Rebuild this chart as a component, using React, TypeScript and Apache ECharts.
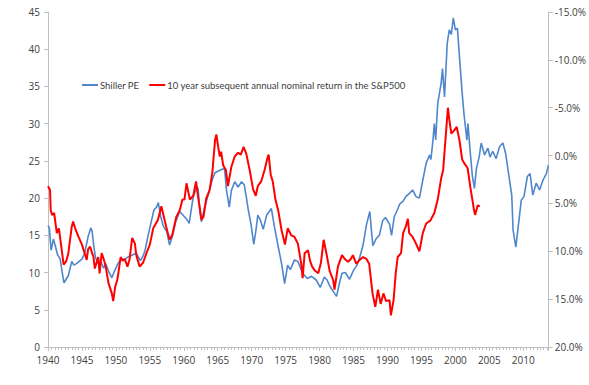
import React, { useEffect, useRef } from "react";
import * as echarts from "echarts";

const peYears = [1940.0,1940.2,1940.45,1940.8,1941.1,1941.4,1941.8,1942.1,1942.35,1942.6,1943.0,1943.5,1943.8,1944.2,1944.6,1945.0,1945.4,1945.9,1946.3,1946.5,1946.75,1947.0,1947.4,1947.8,1948.2,1948.5,1948.9,1949.4,1949.8,1950.3,1950.8,1951.2,1951.8,1952.5,1953.0,1953.6,1954.0,1954.3,1954.7,1955.1,1955.6,1956.0,1956.25,1956.6,1957.0,1957.5,1957.9,1958.3,1958.8,1959.4,1959.8,1960.1,1960.4,1960.8,1961.1,1961.4,1961.9,1962.1,1962.4,1962.6,1963.0,1963.4,1963.8,1964.2,1964.6,1965.0,1965.5,1966.0,1966.3,1966.7,1967.0,1967.5,1968.0,1968.5,1968.9,1969.2,1969.5,1969.9,1970.3,1970.6,1970.9,1971.3,1971.7,1972.2,1972.9,1973.4,1973.9,1974.4,1974.85,1975.3,1975.7,1976.3,1976.8,1977.5,1978.2,1978.8,1979.5,1980.1,1980.7,1981.1,1981.5,1982.2,1982.5,1982.9,1983.3,1983.8,1984.4,1985.0,1985.5,1985.9,1986.4,1986.9,1987.4,1987.7,1987.85,1988.3,1988.8,1989.3,1989.7,1990.3,1990.6,1991.0,1991.5,1991.8,1992.3,1992.7,1993.2,1993.7,1994.2,1994.7,1995.2,1995.7,1996.2,1996.4,1996.7,1996.9,1997.1,1997.4,1997.9,1998.1,1998.4,1998.8,1999.1,1999.4,1999.7,2000.0,2000.3,2000.6,2001.0,2001.3,2001.7,2001.85,2002.2,2002.5,2002.8,2003.1,2003.5,2003.8,2004.3,2004.8,2005.1,2005.5,2006.0,2006.5,2007.0,2007.4,2007.9,2008.3,2008.5,2008.9,2009.2,2009.7,2010.1,2010.6,2011.0,2011.4,2011.9,2012.4,2012.9,2013.4,2013.7];
const peValues = [16.3,16.0,13.0,14.5,13.5,12.4,11.8,10.0,8.6,9.0,9.6,11.5,11.0,11.2,11.5,11.8,12.6,14.8,16.0,15.5,13.5,12.0,11.2,11.4,10.6,11.2,10.2,9.3,10.2,11.2,11.9,11.7,12.1,12.4,12.6,11.6,12.2,13.0,14.8,16.4,18.4,18.8,19.4,17.5,16.2,15.5,13.7,14.8,16.8,18.2,17.8,17.5,17.2,16.6,18.5,20.2,21.5,21.3,18.0,16.8,18.5,19.8,21.1,22.5,23.4,23.6,23.8,24.0,21.0,18.8,21.0,22.2,21.5,22.2,21.8,20.2,18.4,16.5,13.8,15.5,17.7,17.0,15.8,17.7,18.6,15.9,13.5,11.2,8.5,11.0,10.4,11.7,11.5,9.9,9.2,9.5,9.0,8.0,9.4,9.0,8.2,7.2,6.8,8.5,9.9,10.0,9.1,10.3,11.0,12.0,13.7,16.4,18.2,15.0,13.6,14.5,15.0,17.0,17.4,16.5,15.0,17.5,18.5,19.2,19.6,20.2,20.6,21.1,20.2,20.0,22.4,24.7,25.8,25.2,27.8,30.0,27.8,32.7,35.4,37.4,33.6,40.8,42.6,42.0,44.2,42.6,42.8,39.0,34.1,31.0,27.8,30.0,26.0,23.0,21.3,24.0,25.5,27.4,25.8,26.7,25.5,26.3,25.3,26.9,27.4,26.0,22.9,20.4,15.7,13.4,15.7,19.7,20.2,22.9,23.3,20.4,22.0,21.1,22.4,23.3,24.4];

const retYears = [1940.0,1940.3,1940.4,1940.6,1940.9,1941.3,1941.6,1941.9,1942.3,1942.7,1943.0,1943.5,1943.7,1944.1,1944.5,1945.0,1945.4,1945.7,1945.9,1946.2,1946.5,1946.7,1946.9,1947.4,1947.6,1947.9,1948.2,1948.5,1948.9,1949.4,1949.6,1949.9,1950.2,1950.4,1950.7,1951.0,1951.3,1951.7,1952.0,1952.4,1952.8,1953.0,1953.5,1954.0,1954.5,1955.0,1955.5,1956.2,1956.7,1957.0,1957.4,1957.9,1958.3,1958.9,1959.4,1959.8,1960.1,1960.4,1960.9,1961.4,1961.8,1962.1,1962.6,1962.9,1963.3,1963.8,1964.2,1964.6,1964.8,1965.0,1965.3,1965.5,1965.8,1966.2,1966.5,1967.0,1967.5,1968.0,1968.4,1968.8,1969.2,1969.7,1970.2,1970.6,1970.9,1971.4,1971.9,1972.3,1972.5,1972.8,1973.1,1973.5,1973.9,1974.4,1974.9,1975.3,1975.8,1976.3,1976.8,1977.3,1977.5,1977.8,1978.3,1978.6,1978.9,1979.3,1979.8,1980.2,1980.6,1981.0,1981.5,1982.0,1982.2,1982.7,1983.3,1983.7,1984.2,1984.6,1984.9,1985.4,1985.9,1986.4,1986.9,1987.3,1987.8,1988.2,1988.6,1989.0,1989.4,1989.8,1990.3,1990.5,1990.9,1991.2,1991.5,1992.0,1992.3,1992.7,1993.0,1993.2,1993.7,1994.2,1994.7,1995.2,1995.7,1996.3,1996.9,1997.4,1997.9,1998.2,1998.5,1998.9,1999.1,1999.4,1999.8,2000.2,2000.6,2001.0,2001.4,2001.8,2002.2,2002.5,2002.7,2002.9,2003.3,2003.6];
const retValues = [3.2,3.6,5.7,6.2,6.0,8.1,7.6,9.2,11.4,11.0,10.2,7.4,6.9,7.8,8.5,9.3,10.2,10.9,9.8,9.5,10.2,10.6,11.8,10.6,12.3,10.2,10.8,11.6,13.3,14.4,15.2,13.7,13.0,12.1,10.6,11.0,10.8,11.6,10.9,8.6,9.2,10.4,11.6,11.2,10.2,9.3,7.6,6.7,5.3,6.2,7.4,8.8,8.3,6.4,5.7,4.6,4.6,2.9,4.6,4.2,2.7,4.3,6.7,6.4,4.5,3.6,1.8,-1.6,-2.2,-1.2,0.1,-0.4,1.0,1.5,3.2,1.2,0.1,-0.3,-0.1,-0.9,-0.2,1.5,3.5,4.2,3.2,2.7,1.5,0.3,-0.1,2.0,2.7,4.6,5.7,7.8,9.3,7.6,8.3,8.5,9.2,11.3,12.8,10.2,9.9,11.0,11.6,12.0,12.3,11.2,8.8,10.2,12.1,13.0,14.0,11.6,10.4,10.8,11.1,10.8,10.4,11.3,10.9,10.6,10.8,11.3,14.4,15.8,14.0,15.5,14.4,15.2,15.1,16.7,15.1,12.4,10.6,10.2,8.1,7.4,6.6,8.1,8.5,9.2,10.0,8.1,7.1,6.8,6.0,4.6,2.4,1.5,-1.3,-5.0,-3.8,-2.3,-2.6,-3.0,-1.6,0.4,0.9,1.3,3.3,4.6,5.5,6.2,5.2,5.3];

const leftTicks = { min: 0, max: 45, interval: 5 };
const rightTicks = { min: -15, max: 20, interval: 5 };
const xRange = { min: 1940, max: 2013.75, interval: 5 };

const seriesNames = ["Shiller PE", "10 year subsequent annual nominal return in the S&P500"];

export default function App() {
  const ref = useRef<HTMLDivElement>(null);
  useEffect(() => {
    if (!ref.current) return;
    const chart = echarts.init(ref.current, null, { renderer: "svg" });
    const font = "Open Sans";
    const axisColor = "#bfbfbf";
    const labelColor = "#404040";
    chart.setOption({
      animation: false,
      backgroundColor: "#ffffff",
      grid: { left: 48, right: 40, top: 12, bottom: 38 },
      legend: {
        left: 77,
        top: 75,
        itemWidth: 16,
        itemHeight: 2,
        itemGap: 10,
        icon: "rect",
        textStyle: { fontFamily: "Lato", fontSize: 9.5, color: labelColor, padding: [0, 0, 0, -3] },
        data: seriesNames,
      },
      xAxis: {
        type: "value",
        min: xRange.min,
        max: xRange.max,
        interval: xRange.interval,
        axisLine: { show: true, lineStyle: { color: axisColor } },
        axisTick: { show: true, length: 4, lineStyle: { color: axisColor } },
        minorTick: { show: true, splitNumber: 10, length: 3, lineStyle: { color: axisColor } },
        splitLine: { show: false },
        axisLabel: {
          fontFamily: font,
          fontSize: 10,
          color: labelColor,
          margin: 8,
          showMaxLabel: false,
          formatter: (v: number) => String(Math.round(v)),
        },
      },
      yAxis: [
        {
          type: "value",
          min: leftTicks.min,
          max: leftTicks.max,
          interval: leftTicks.interval,
          axisLine: { show: true, lineStyle: { color: axisColor } },
          axisTick: { show: true, length: 4, lineStyle: { color: axisColor } },
          splitLine: { show: false },
          axisLabel: { fontFamily: font, fontSize: 10, color: labelColor, margin: 8 },
        },
        {
          type: "value",
          inverse: true,
          min: rightTicks.min,
          max: rightTicks.max,
          interval: rightTicks.interval,
          position: "right",
          axisLine: { show: true, lineStyle: { color: axisColor } },
          axisTick: { show: true, length: 4, lineStyle: { color: axisColor } },
          splitLine: { show: false },
          axisLabel: {
            fontFamily: font,
            fontSize: 10,
            color: labelColor,
            margin: 6,
            formatter: (v: number) => v.toFixed(1) + "%",
          },
        },
      ],
      series: [
        {
          name: seriesNames[0],
          type: "line",
          yAxisIndex: 0,
          showSymbol: false,
          symbol: "none",
          lineStyle: { color: "#4f86cc", width: 1.6 },
          itemStyle: { color: "#4f86cc" },
          data: peYears.map((y, i) => [y, peValues[i]]),
          z: 2,
        },
        {
          name: seriesNames[1],
          type: "line",
          yAxisIndex: 1,
          showSymbol: false,
          symbol: "none",
          lineStyle: { color: "#ff0000", width: 2 },
          itemStyle: { color: "#ff0000" },
          data: retYears.map((y, i) => [y, retValues[i]]),
          z: 3,
        },
      ],
    });
    return () => chart.dispose();
  }, []);
  return (
    <div
      ref={ref}
      style={{ position: "absolute", left: 0, top: 0, width: 589, height: 385 }}
    />
  );
}
